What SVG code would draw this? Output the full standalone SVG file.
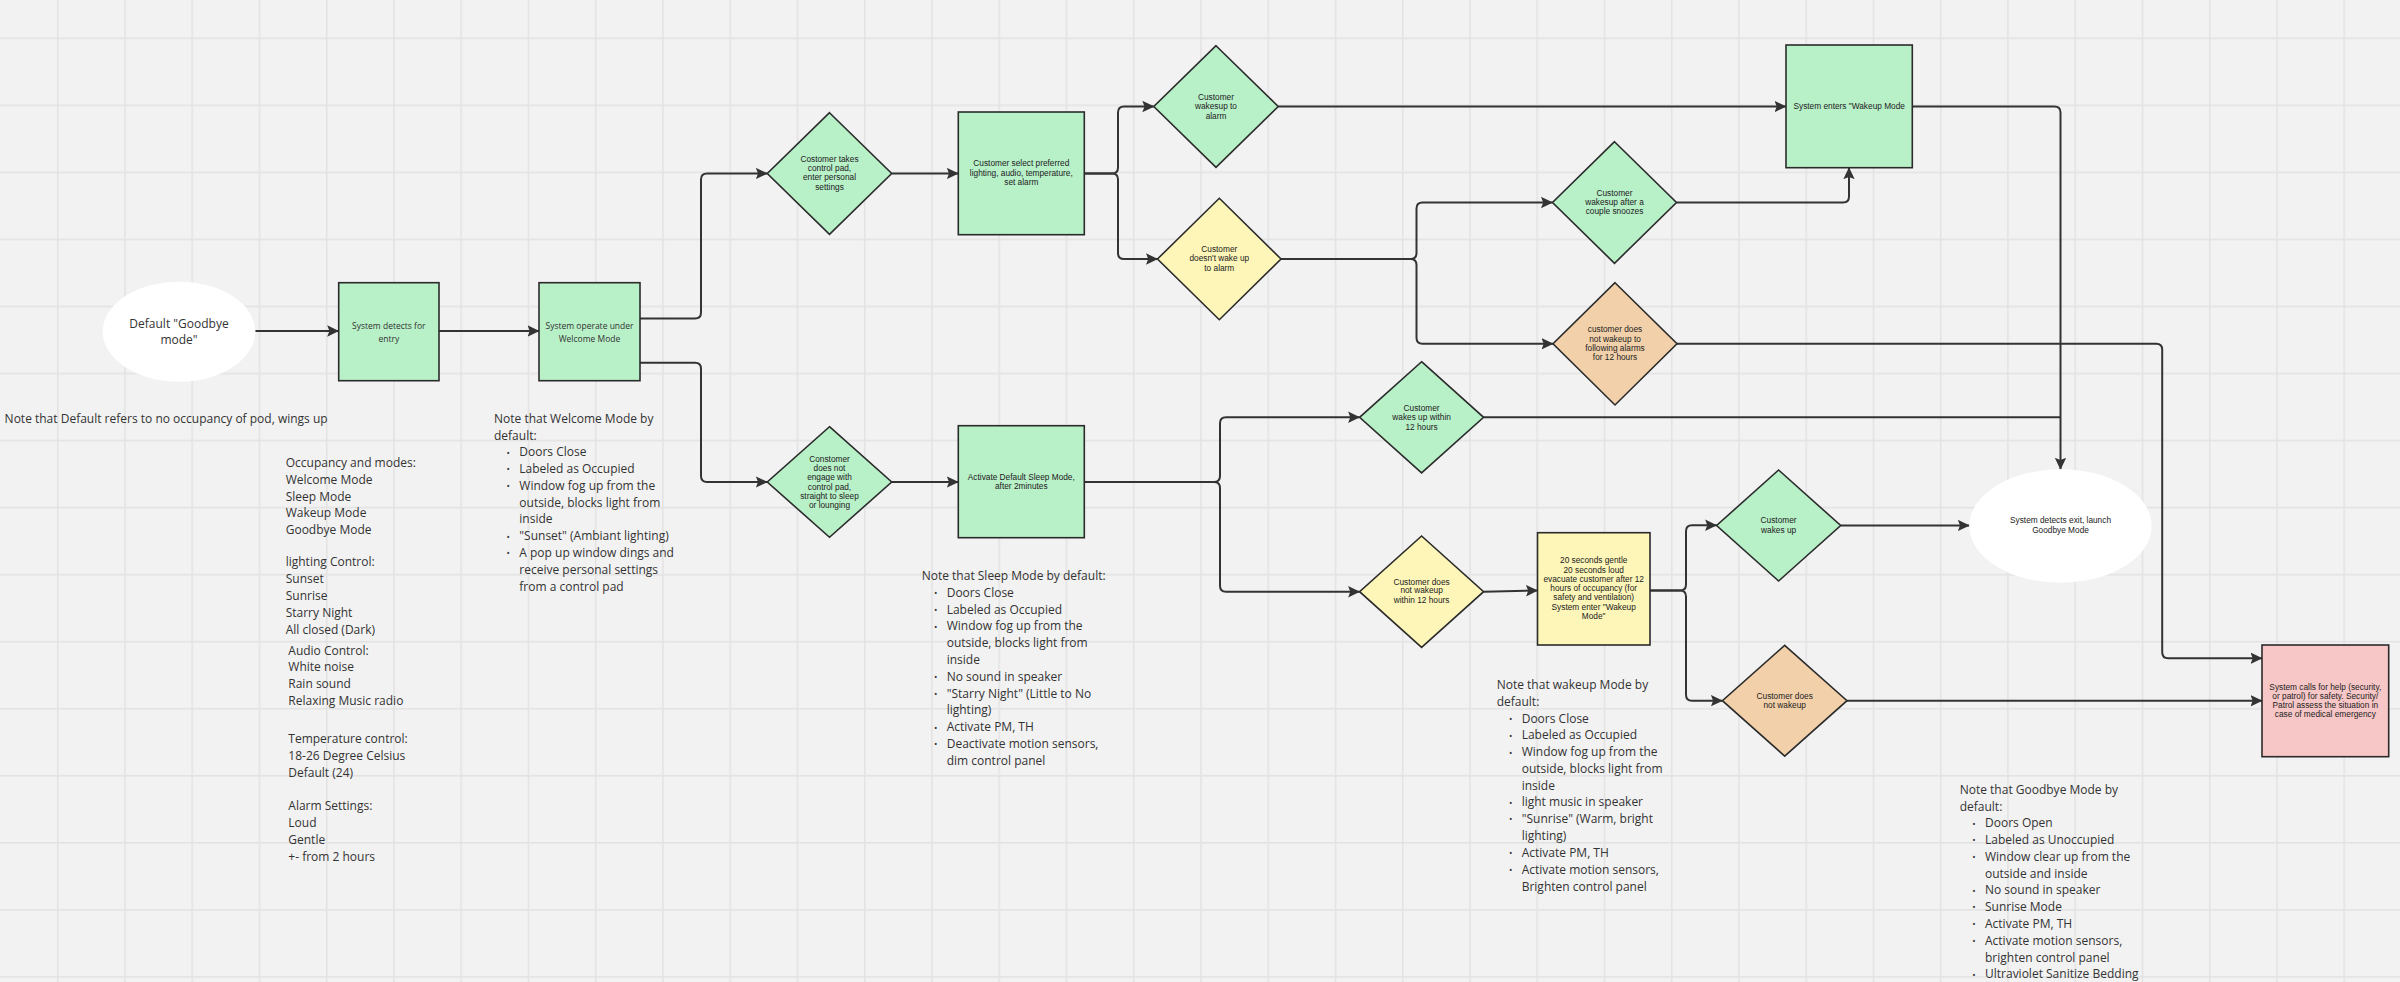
<svg xmlns="http://www.w3.org/2000/svg" width="2400" height="982" viewBox="0 0 2400 982">
<defs>
<pattern id="grid" x="56.9" y="37.4" width="67.25" height="67.05" patternUnits="userSpaceOnUse">
<rect x="0" y="0" width="1.6" height="67.05" fill="#e3e3e3"/>
<rect x="0" y="0" width="67.25" height="1.6" fill="#e3e3e3"/>
</pattern>
<marker id="arr" viewBox="0 0 12 12" refX="11.5" refY="6" markerWidth="12" markerHeight="12" markerUnits="userSpaceOnUse" orient="auto">
<path d="M0,0.3 L12,6 L0,11.7 L2.2,6 z" fill="#333"/>
</marker>
<style>
.green{fill:#b8f0c8;stroke:#2b2b2b;stroke-width:1.6}
.yellow{fill:#fdf6b8;stroke:#2b2b2b;stroke-width:1.6}
.orange{fill:#f2d1aa;stroke:#2b2b2b;stroke-width:1.6}
.pink{fill:#f7c6c6;stroke:#2b2b2b;stroke-width:1.6}
.ell{fill:#ffffff}
.conn{fill:none;stroke:#333;stroke-width:2;stroke-linejoin:round}
.arrow{marker-end:url(#arr)}
.tn{font-family:"Liberation Sans",Arial,sans-serif;font-size:8.3px;fill:#222;text-anchor:middle}
.to{font-family:"Open Sans","Noto Sans",sans-serif;font-size:8.5px;fill:#333;text-anchor:middle}
.tb{font-family:"Open Sans","Noto Sans",sans-serif;font-size:12px;fill:#333;text-anchor:middle}
.note{font-family:"Open Sans","Noto Sans",sans-serif;font-size:12px;fill:#333}
.bul{font-family:"Open Sans","Noto Sans",sans-serif;font-size:9px;fill:#333}
</style>
</defs>
<rect x="0" y="0" width="2400" height="982" fill="#f2f2f2"/>
<rect x="0" y="0" width="2400" height="982" fill="url(#grid)"/>

<g id="connectors">
<path class="conn arrow" d="M255.3,331 L338.7,331"/>
<path class="conn arrow" d="M439,331 L539,331"/>
<path class="conn arrow" d="M640,318.4 L695,318.4 Q701,318.4 701,312.4 L701,179.5 Q701,173.5 707,173.5 L767.3,173.5"/>
<path class="conn arrow" d="M640,362.8 L695,362.8 Q701,362.8 701,368.8 L701,476 Q701,482 707,482 L767.3,482"/>
<path class="conn arrow" d="M891.7,173.5 L958.3,173.5"/>
<path class="conn arrow" d="M891.7,482 L958.3,482"/>
<path class="conn arrow" d="M1084.3,173.5 L1112,173.5 Q1118,173.5 1118,167.5 L1118,112.5 Q1118,106.5 1124,106.5 L1153.8,106.5"/>
<path class="conn arrow" d="M1084.3,173.5 L1112,173.5 Q1118,173.5 1118,179.5 L1118,253 Q1118,259 1124,259 L1157.5,259"/>
<path class="conn arrow" d="M1278.2,106.5 L1786,106.5"/>
<path class="conn arrow" d="M1281,259 L1410.5,259 Q1416.5,259 1416.5,253 L1416.5,208.5 Q1416.5,202.5 1422.5,202.5 L1552.5,202.5"/>
<path class="conn arrow" d="M1281,259 L1410.5,259 Q1416.5,259 1416.5,265 L1416.5,337.8 Q1416.5,343.8 1422.5,343.8 L1553,343.8"/>
<path class="conn arrow" d="M1676.5,202.5 L1843,202.5 Q1849,202.5 1849,196.5 L1849,167.7"/>
<path class="conn arrow" d="M1912.3,106.5 L2054.5,106.5 Q2060.5,106.5 2060.5,112.5 L2060.5,469.3"/>
<path class="conn" d="M1483.6,417.3 L2060.5,417.3"/>
<path class="conn arrow" d="M1677,343.8 L2156.2,343.8 Q2162.2,343.8 2162.2,349.8 L2162.2,652.3 Q2162.2,658.3 2168.2,658.3 L2262,658.3"/>
<path class="conn arrow" d="M1084.3,482 L1214,482 Q1220,482 1220,476 L1220,423.3 Q1220,417.3 1226,417.3 L1359.6,417.3"/>
<path class="conn arrow" d="M1084.3,482 L1214,482 Q1220,482 1220,488 L1220,585.7 Q1220,591.7 1226,591.7 L1359.6,591.7"/>
<path class="conn arrow" d="M1483.6,591.7 L1537.5,590.5"/>
<path class="conn arrow" d="M1650,590.5 L1680,590.5 Q1686,590.5 1686,584.5 L1686,531.3 Q1686,525.3 1692,525.3 L1716.6,525.3"/>
<path class="conn arrow" d="M1650,590.5 L1680,590.5 Q1686,590.5 1686,596.5 L1686,694.7 Q1686,700.7 1692,700.7 L1722.4,700.7"/>
<path class="conn arrow" d="M1840.7,525.5 L1969.3,525.5"/>
<path class="conn arrow" d="M1847,700.7 L2262,700.7"/>
</g>

<g id="node-default">
<ellipse class="ell" cx="179" cy="331.7" rx="76.3" ry="50"/>
<text class="tb"><tspan x="179" y="327.5">Default "Goodbye</tspan><tspan x="179" y="344.2">mode"</tspan></text>
</g>

<g id="node-entry">
<rect class="green" x="338.7" y="282.7" width="100.3" height="98"/>
<text class="to"><tspan x="388.8" y="329">System detects for</tspan><tspan x="388.8" y="341.7">entry</tspan></text>
</g>

<g id="node-welcome">
<rect class="green" x="539" y="282.7" width="101" height="98"/>
<text class="to"><tspan x="589.5" y="329">System operate under</tspan><tspan x="589.5" y="341.7">Welcome Mode</tspan></text>
</g>

<g id="node-takes-pad">
<polygon class="green" points="829.5,112.7 891.7,173.5 829.5,234.3 767.3,173.5"/>
<text class="tn"><tspan x="829.5" y="161.7">Costomer takes</tspan><tspan x="829.5" y="171">control pad,</tspan><tspan x="829.5" y="180.3">enter personal</tspan><tspan x="829.5" y="189.7">settings</tspan></text>
</g>

<g id="node-no-engage">
<polygon class="green" points="829.5,426.7 891.7,482 829.5,537.3 767.3,482"/>
<text class="tn"><tspan x="829.5" y="462">Constomer</tspan><tspan x="829.5" y="471.3">does not</tspan><tspan x="829.5" y="480.3">engage with</tspan><tspan x="829.5" y="489.7">control pad,</tspan><tspan x="829.5" y="499">straight to sleep</tspan><tspan x="829.5" y="508.3">or lounging</tspan></text>
</g>

<g id="node-select">
<rect class="green" x="958.3" y="112" width="126" height="122.7"/>
<text class="tn"><tspan x="1021.3" y="166.3">Customer select preferred</tspan><tspan x="1021.3" y="175.7">lighting, audio, temperature,</tspan><tspan x="1021.3" y="184.7">set alarm</tspan></text>
</g>

<g id="node-sleep">
<rect class="green" x="958.3" y="425.7" width="126" height="112"/>
<text class="tn"><tspan x="1021.3" y="479.7">Activate Default Sleep Mode,</tspan><tspan x="1021.3" y="489">after 2minutes</tspan></text>
</g>

<g id="node-wake-alarm">
<polygon class="green" points="1216,45.7 1278.2,106.5 1216,167.3 1153.8,106.5"/>
<text class="tn"><tspan x="1216" y="99.7">Customer</tspan><tspan x="1216" y="109">wakesup to</tspan><tspan x="1216" y="118.7">alarm</tspan></text>
</g>

<g id="node-nowake-alarm">
<polygon class="yellow" points="1219.3,198.3 1281,259 1219.3,319.7 1157.5,259"/>
<text class="tn"><tspan x="1219.3" y="252">Customer</tspan><tspan x="1219.3" y="261.3">doesn't wake up</tspan><tspan x="1219.3" y="270.7">to alarm</tspan></text>
</g>

<g id="node-snooze">
<polygon class="green" points="1614.5,141.7 1676.5,202.5 1614.5,263.3 1552.5,202.5"/>
<text class="tn"><tspan x="1614.5" y="195.7">Customer</tspan><tspan x="1614.5" y="205">wakesup after a</tspan><tspan x="1614.5" y="214.3">couple snoozes</tspan></text>
</g>

<g id="node-no-wake-12h">
<polygon class="orange" points="1615,282.7 1677,343.8 1615,405 1553,343.8"/>
<text class="tn"><tspan x="1615" y="332.3">customer does</tspan><tspan x="1615" y="341.7">not wakeup to</tspan><tspan x="1615" y="350.7">following alarms</tspan><tspan x="1615" y="360">for 12 hours</tspan></text>
</g>

<g id="node-wakeup-mode">
<rect class="green" x="1786" y="45" width="126.3" height="122.7"/>
<text class="tn"><tspan x="1849.2" y="109">System enters "Wakeup Mode</tspan></text>
</g>

<g id="node-within-12h">
<polygon class="green" points="1421.6,361.7 1483.6,417.3 1421.6,472.9 1359.6,417.3"/>
<text class="tn"><tspan x="1421.6" y="410.7">Customer</tspan><tspan x="1421.6" y="420">wakes up within</tspan><tspan x="1421.6" y="429.7">12 hours</tspan></text>
</g>

<g id="node-not-within-12h">
<polygon class="yellow" points="1421.6,536 1483.6,591.7 1421.6,647.4 1359.6,591.7"/>
<text class="tn"><tspan x="1421.6" y="584.7">Customer does</tspan><tspan x="1421.6" y="593.3">not wakeup</tspan><tspan x="1421.6" y="602.7">within 12 hours</tspan></text>
</g>

<g id="node-evacuate">
<rect class="yellow" x="1537.5" y="532.7" width="112.5" height="112.3"/>
<text class="tn"><tspan x="1593.7" y="563">20 seconds gentle</tspan><tspan x="1593.7" y="572.5">20 seconds loud</tspan><tspan x="1593.7" y="581.7">evacuate customer after 12</tspan><tspan x="1593.7" y="590.8">hours of occupancy (for</tspan><tspan x="1593.7" y="599.9">safety and ventilation)</tspan><tspan x="1593.7" y="609.6">System enter "Wakeup</tspan><tspan x="1593.7" y="618.8">Mode"</tspan></text>
</g>

<g id="node-wakes-up">
<polygon class="green" points="1778.6,470 1840.7,525.5 1778.6,581 1716.6,525.5"/>
<text class="tn"><tspan x="1778.6" y="523">Customer</tspan><tspan x="1778.6" y="533">wakes up</tspan></text>
</g>

<g id="node-not-wakeup">
<polygon class="orange" points="1784.7,645.3 1847,700.7 1784.7,756.1 1722.4,700.7"/>
<text class="tn"><tspan x="1784.7" y="698.7">Customer does</tspan><tspan x="1784.7" y="708">not wakeup</tspan></text>
</g>

<g id="node-goodbye">
<ellipse class="ell" cx="2060.5" cy="526" rx="91.2" ry="56.7"/>
<text class="tn"><tspan x="2060.5" y="523">System detects exit, launch</tspan><tspan x="2060.5" y="533">Goodbye Mode</tspan></text>
</g>

<g id="node-help">
<rect class="pink" x="2262" y="645" width="126.7" height="111.7"/>
<text class="tn"><tspan x="2325.3" y="689.7">System calls for help (security,</tspan><tspan x="2325.3" y="698.7">or patrol) for safety. Security/</tspan><tspan x="2325.3" y="707.7">Patrol assess the situation in</tspan><tspan x="2325.3" y="716.7">case of medical emergency</tspan></text>
</g>

<g id="note-default">
<text class="note" x="4.6" y="423">Note that Default refers to no occupancy of pod, wings up</text>
</g>

<g id="note-settings">
<text class="note"><tspan x="285.7" y="467.3">Occupancy and modes:</tspan><tspan x="285.7" y="484">Welcome Mode</tspan><tspan x="285.7" y="500.7">Sleep Mode</tspan><tspan x="285.7" y="517.3">Wakeup Mode</tspan><tspan x="285.7" y="534">Goodbye Mode</tspan><tspan x="285.7" y="566.3">lighting Control:</tspan><tspan x="285.7" y="583">Sunset</tspan><tspan x="285.7" y="600">Sunrise</tspan><tspan x="285.7" y="617">Starry Night</tspan><tspan x="285.7" y="633.7">All closed (Dark)</tspan></text>
<text class="note"><tspan x="288.3" y="654.7">Audio Control:</tspan><tspan x="288.3" y="671.3">White noise</tspan><tspan x="288.3" y="688">Rain sound</tspan><tspan x="288.3" y="705">Relaxing Music radio</tspan></text>
<text class="note"><tspan x="288.3" y="742.7">Temperature control:</tspan><tspan x="288.3" y="759.7">18-26 Degree Celsius</tspan><tspan x="288.3" y="776.7">Default (24)</tspan></text>
<text class="note"><tspan x="288.3" y="810">Alarm Settings:</tspan><tspan x="288.3" y="827">Loud</tspan><tspan x="288.3" y="843.7">Gentle</tspan><tspan x="288.3" y="860.7">+- from 2 hours</tspan></text>
</g>

<g id="note-welcome">
<text class="note"><tspan x="494" y="423">Note that Welcome Mode by</tspan><tspan x="494" y="439.7">default:</tspan><tspan x="519.3" y="456.3">Doors Close</tspan><tspan x="519.3" y="473">Labeled as Occupied</tspan><tspan x="519.3" y="489.7">Window fog up from the</tspan><tspan x="519.3" y="506.7">outside, blocks light from</tspan><tspan x="519.3" y="523.3">inside</tspan><tspan x="519.3" y="540.3">"Sunset" (Ambiant lighting)</tspan><tspan x="519.3" y="557">A pop up window dings and</tspan><tspan x="519.3" y="574">receive personal settings</tspan><tspan x="519.3" y="590.7">from a control pad</tspan></text>
<text class="bul"><tspan x="506.5" y="455.5">•</tspan><tspan x="506.5" y="472.2">•</tspan><tspan x="506.5" y="488.9">•</tspan><tspan x="506.5" y="539.5">•</tspan><tspan x="506.5" y="556.2">•</tspan></text>
</g>

<g id="note-sleep">
<text class="note"><tspan x="921.7" y="580">Note that Sleep Mode by default:</tspan><tspan x="946.7" y="596.7">Doors Close</tspan><tspan x="946.7" y="613.7">Labeled as Occupied</tspan><tspan x="946.7" y="630.3">Window fog up from the</tspan><tspan x="946.7" y="647">outside, blocks light from</tspan><tspan x="946.7" y="664">inside</tspan><tspan x="946.7" y="680.7">No sound in speaker</tspan><tspan x="946.7" y="697.7">"Starry Night" (Little to No</tspan><tspan x="946.7" y="714.3">lighting)</tspan><tspan x="946.7" y="731.3">Activate PM, TH</tspan><tspan x="946.7" y="748">Deactivate motion sensors,</tspan><tspan x="946.7" y="765">dim control panel</tspan></text>
<text class="bul"><tspan x="934" y="595.9">•</tspan><tspan x="934" y="612.9">•</tspan><tspan x="934" y="629.5">•</tspan><tspan x="934" y="679.9">•</tspan><tspan x="934" y="696.9">•</tspan><tspan x="934" y="730.5">•</tspan><tspan x="934" y="747.2">•</tspan></text>
</g>

<g id="note-wakeup">
<text class="note"><tspan x="1496.7" y="689">Note that wakeup Mode by</tspan><tspan x="1496.7" y="706">default:</tspan><tspan x="1521.7" y="722.7">Doors Close</tspan><tspan x="1521.7" y="739.3">Labeled as Occupied</tspan><tspan x="1521.7" y="756.3">Window fog up from the</tspan><tspan x="1521.7" y="773">outside, blocks light from</tspan><tspan x="1521.7" y="789.7">inside</tspan><tspan x="1521.7" y="806.3">light music in speaker</tspan><tspan x="1521.7" y="823">"Sunrise" (Warm, bright</tspan><tspan x="1521.7" y="840">lighting)</tspan><tspan x="1521.7" y="857">Activate PM, TH</tspan><tspan x="1521.7" y="874">Activate motion sensors,</tspan><tspan x="1521.7" y="891">Brighten control panel</tspan></text>
<text class="bul"><tspan x="1509" y="721.9">•</tspan><tspan x="1509" y="738.5">•</tspan><tspan x="1509" y="755.5">•</tspan><tspan x="1509" y="805.5">•</tspan><tspan x="1509" y="822.2">•</tspan><tspan x="1509" y="856.2">•</tspan><tspan x="1509" y="873.2">•</tspan></text>
</g>

<g id="note-goodbye">
<text class="note"><tspan x="1959.7" y="794">Note that Goodbye Mode by</tspan><tspan x="1959.7" y="810.7">default:</tspan><tspan x="1985" y="827.3">Doors Open</tspan><tspan x="1985" y="844">Labeled as Unoccupied</tspan><tspan x="1985" y="861">Window clear up from the</tspan><tspan x="1985" y="877.7">outside and inside</tspan><tspan x="1985" y="894.3">No sound in speaker</tspan><tspan x="1985" y="911">Sunrise Mode</tspan><tspan x="1985" y="928">Activate PM, TH</tspan><tspan x="1985" y="945">Activate motion sensors,</tspan><tspan x="1985" y="961.7">brighten control panel</tspan><tspan x="1985" y="978.3">Ultraviolet Sanitize Bedding</tspan></text>
<text class="bul"><tspan x="1972.3" y="826.5">•</tspan><tspan x="1972.3" y="843.2">•</tspan><tspan x="1972.3" y="860.2">•</tspan><tspan x="1972.3" y="893.5">•</tspan><tspan x="1972.3" y="910.2">•</tspan><tspan x="1972.3" y="927.2">•</tspan><tspan x="1972.3" y="944.2">•</tspan><tspan x="1972.3" y="977.5">•</tspan></text>
</g>
</svg>
